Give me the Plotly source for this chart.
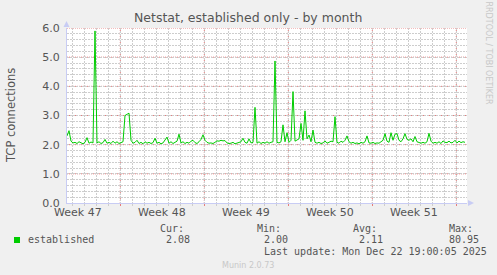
import plotly.graph_objects as go

# ---------------- data ----------------
step_hours = 4
established = [
    2.30, 2.48, 2.12, 2.06, 2.08, 2.04, 2.10, 2.05, 2.03, 2.08,
    2.24, 2.05, 2.09, 2.06, 5.90, 2.06, 2.10, 2.04, 2.07, 2.18,
    2.05, 2.08, 2.04, 2.12, 2.05, 2.10, 2.04, 2.07, 2.10, 3.00,
    3.05, 3.08, 2.15, 2.05, 2.08, 2.15, 2.04, 2.08, 2.03, 2.10,
    2.05, 2.08, 2.04, 2.07, 2.22, 2.05, 2.08, 2.03, 2.06, 2.15,
    2.26, 2.05, 2.10, 2.04, 2.08, 2.12, 2.36, 2.06, 2.10, 2.04,
    2.08, 2.05, 2.12, 2.15, 2.07, 2.04, 2.10, 2.18, 2.34, 2.15,
    2.08, 2.05, 2.06, 2.04, 2.08, 2.13, 2.12, 2.15, 2.13, 2.14,
    2.06, 2.04, 2.05, 2.08, 2.03, 2.05, 2.08, 2.10, 2.22, 2.08,
    2.05, 2.20, 2.06, 2.08, 3.28, 2.05, 2.10, 2.04, 2.08, 2.05,
    2.10, 2.05, 2.08, 2.10, 4.87, 2.08, 2.06, 2.10, 2.68, 2.10,
    2.41, 2.08, 2.15, 3.82, 2.12, 2.15, 2.20, 2.73, 2.15, 3.16,
    2.20, 2.33, 2.10, 2.50, 2.08, 2.05, 2.08, 2.04, 2.06, 2.13,
    2.05, 2.08, 2.12, 2.10, 2.96, 2.08, 2.05, 2.12, 2.08, 2.15,
    2.30, 2.10, 2.05, 2.08, 2.04, 2.06, 2.03, 2.08, 2.05, 2.10,
    2.30, 2.06, 2.05, 2.08, 2.04, 2.06, 2.05, 2.10, 2.15, 2.38,
    2.12, 2.08, 2.41, 2.15, 2.36, 2.38, 2.15, 2.10, 2.20, 2.38,
    2.18, 2.15, 2.20, 2.10, 2.28, 2.10, 2.08, 2.05, 2.08, 2.05,
    2.10, 2.39, 2.12, 2.05, 2.08, 2.05, 2.10, 2.04, 2.13, 2.08,
    2.07, 2.12, 2.06, 2.08, 2.15, 2.06, 2.12, 2.07, 2.10, 2.08,
]
hours = [i * step_hours for i in range(len(established))]

x_range = [0, 800]
y_range = [0, 6]
week_boundaries = [106.6, 274.6, 442.6, 610.6, 778.6]
week_label_pos = [22.6, 190.6, 358.6, 526.6, 694.6]
week_labels = ["Week 47", "Week 48", "Week 49", "Week 50", "Week 51"]
y_ticks = [0, 1, 2, 3, 4, 5, 6]

title = "Netstat, established only - by month"
y_title = "TCP connections"
series_name = "established"
stat_labels = ["Cur:", "Min:", "Avg:", "Max:"]
stat_values = ["2.08", "2.00", "2.11", "80.95"]
last_update = "Last update: Mon Dec 22 19:00:05 2025"
version = "Munin 2.0.73"
watermark = "RRDTOOL / TOBI OETIKER"

# ---------------- layout helpers ----------------
W, H = 497, 275
L, R, T, B = 67, 467, 28, 203


def px(x):
    return (x - L) / (R - L)


def py(y):
    return (B - y) / (B - T)


GREEN = "#00CC00"
TXT = "#555555"
MONO = "DejaVu Sans Mono"
SANS = "DejaVu Sans"
AXIS_BLUE = "#C8CCF4"
RED_GRID = "#E67C7C"
GRAY_GRID = "#CDCDCD"

fig = go.Figure()
fig.add_trace(go.Scatter(
    x=hours, y=established, mode="lines",
    line=dict(color=GREEN, width=1), hoverinfo="skip", showlegend=False,
))

fig.update_layout(
    width=W, height=H,
    margin=dict(l=L, r=W - R, t=T, b=H - B, pad=0),
    paper_bgcolor="#F0F0F0", plot_bgcolor="#FFFFFF",
    showlegend=False,
    xaxis=dict(
        range=x_range, tickmode="array", tickvals=week_boundaries,
        ticktext=["" for _ in week_boundaries],
        showgrid=False,
        ticks="outside", ticklen=2, tickcolor=RED_GRID,
        showline=True, linecolor=AXIS_BLUE, linewidth=1,
        zeroline=False,
        minor=dict(tick0=week_boundaries[0] % 24, dtick=24, showgrid=True,
                   gridcolor=GRAY_GRID, griddash="2px,1px", gridwidth=1,
                   ticks="outside", ticklen=2, tickcolor=GRAY_GRID),
    ),
    yaxis=dict(
        range=y_range, tickmode="array", tickvals=y_ticks,
        ticktext=[f"{v:.1f}" for v in y_ticks],
        showgrid=False,
        showline=True, linecolor=AXIS_BLUE, linewidth=1,
        zeroline=False, ticks="", ticklabelstandoff=4,
        tickfont=dict(family=SANS, size=11, color=TXT),
        minor=dict(dtick=0.2, showgrid=True, gridcolor=GRAY_GRID,
                   griddash="2px,1px", gridwidth=1),
    ),
)

ann = []
for pos, lab in zip(week_label_pos, week_labels):
    ann.append(dict(text=lab, x=pos, y=py(212), xref="x", yref="paper",
                    showarrow=False, xanchor="center", yanchor="middle",
                    font=dict(family=SANS, size=11, color=TXT)))
ann.append(dict(text=title, x=px(248), y=py(18), xref="paper", yref="paper",
                showarrow=False, xanchor="center", yanchor="middle",
                font=dict(family=SANS, size=12.5, color=TXT)))
ann.append(dict(text=y_title, x=px(11), y=py(115), xref="paper", yref="paper",
                showarrow=False, xanchor="center", yanchor="middle", textangle=-90,
                font=dict(family=SANS, size=11.5, color=TXT)))
ann.append(dict(text=watermark, x=px(488.5), y=py(53), xref="paper", yref="paper",
                showarrow=False, xanchor="center", yanchor="middle", textangle=90,
                font=dict(family=SANS, size=8, color="#C8C8C8")))
ann.append(dict(text=series_name, x=px(26), y=py(239), xref="paper", yref="paper",
                showarrow=False, xanchor="left", yanchor="middle",
                font=dict(family=MONO, size=10, color=TXT)))
label_x = [158, 255, 351, 447]
value_x = [164, 262, 357, 447]
for lx, vx, lab, val in zip(label_x, value_x, stat_labels, stat_values):
    ann.append(dict(text=lab, x=px(lx), y=py(228), xref="paper", yref="paper",
                    showarrow=False, xanchor="left", yanchor="middle",
                    font=dict(family=MONO, size=10, color=TXT)))
    ann.append(dict(text=val, x=px(vx), y=py(239), xref="paper", yref="paper",
                    showarrow=False, xanchor="left", yanchor="middle",
                    font=dict(family=MONO, size=10, color=TXT)))
ann.append(dict(text=last_update, x=px(262), y=py(251), xref="paper", yref="paper",
                showarrow=False, xanchor="left", yanchor="middle",
                font=dict(family=MONO, size=10, color=TXT)))
ann.append(dict(text=version, x=px(248), y=py(265), xref="paper", yref="paper",
                showarrow=False, xanchor="center", yanchor="middle",
                font=dict(family=SANS, size=8, color="#C8C8C8")))
fig.update_layout(annotations=ann)

shapes = []
# major (red dotted) grid lines, drawn above the minor grid and below the data
for wb in week_boundaries:
    shapes.append(dict(type="line", xref="x", yref="paper", x0=wb, x1=wb, y0=0, y1=1,
                       layer="below", line=dict(color=RED_GRID, width=1, dash="1px,1px")))
for yt in y_ticks[1:]:
    shapes.append(dict(type="line", xref="paper", yref="y", x0=0, x1=1, y0=yt, y1=yt,
                       layer="below", line=dict(color=RED_GRID, width=1, dash="1px,1px")))
# legend colour box
shapes.append(dict(type="rect", xref="paper", yref="paper",
                   x0=px(14), x1=px(20), y0=py(243), y1=py(237),
                   fillcolor=GREEN, line=dict(width=0)))
# axis arrows
shapes.append(dict(type="path", xref="paper", yref="paper",
                   path=f"M {px(63.5)} {py(27)} L {px(69.5)} {py(27)} L {px(66.5)} {py(21)} Z",
                   fillcolor=AXIS_BLUE, line=dict(width=0)))
shapes.append(dict(type="path", xref="paper", yref="paper",
                   path=f"M {px(468)} {py(200)} L {px(468)} {py(206)} L {px(474)} {py(203)} Z",
                   fillcolor=AXIS_BLUE, line=dict(width=0)))
fig.update_layout(shapes=shapes)

fig.write_html("out.html")
